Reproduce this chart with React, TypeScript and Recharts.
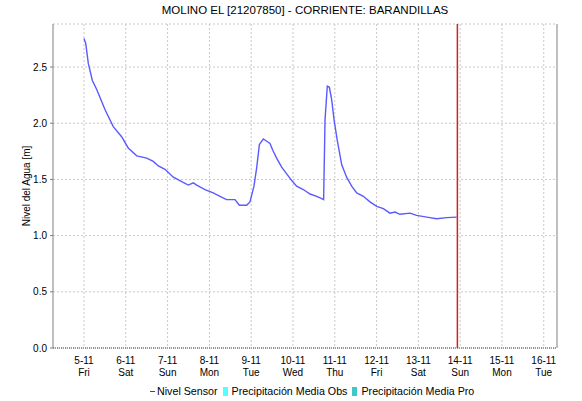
import React from 'react';
import { ComposedChart, Line, XAxis, YAxis, CartesianGrid, ReferenceLine } from 'recharts';

// hours since 5-11 00:00
const hours = [0, 1, 2.5, 4.8, 7.3, 12.1, 16.8, 21.6, 25.4, 30.3, 36, 39.8, 42.7, 46.5, 51.3, 56.1, 59.9, 62.8, 64.7, 69.5, 74.2, 78.1, 81.9, 86.7, 89.2, 93.4, 95.3, 97.6, 99.2, 100.7, 103, 104.9, 106.8, 108.4, 110.6, 113.5, 116.4, 119.3, 122.1, 125.9, 129.8, 133.6, 136.5, 137.6, 138.4, 139.7, 140.9, 142.2, 143.6, 145.4, 148, 150.8, 153.7, 156.6, 160.4, 164.2, 168.1, 171.9, 175.7, 178.6, 181.4, 187.2, 191, 196.8, 202.5, 208.3, 214];
const nivel = [2.755, 2.71, 2.53, 2.38, 2.3, 2.12, 1.97, 1.88, 1.78, 1.71, 1.69, 1.66, 1.62, 1.59, 1.52, 1.48, 1.45, 1.47, 1.45, 1.41, 1.38, 1.35, 1.32, 1.32, 1.27, 1.27, 1.3, 1.44, 1.61, 1.81, 1.86, 1.84, 1.82, 1.76, 1.69, 1.61, 1.55, 1.49, 1.44, 1.41, 1.37, 1.35, 1.33, 1.32, 2.03, 2.33, 2.32, 2.21, 2.03, 1.85, 1.63, 1.52, 1.44, 1.38, 1.35, 1.3, 1.26, 1.24, 1.2, 1.21, 1.19, 1.2, 1.18, 1.165, 1.15, 1.16, 1.165];

const dayTicks = [0, 24, 48, 72, 96, 120, 144, 168, 192, 216, 240, 264];
const dateLabels = ['5-11', '6-11', '7-11', '8-11', '9-11', '10-11', '11-11', '12-11', '13-11', '14-11', '15-11', '16-11'];
const dayNames = ['Fri', 'Sat', 'Sun', 'Mon', 'Tue', 'Wed', 'Thu', 'Fri', 'Sat', 'Sun', 'Mon', 'Tue'];

const leftTicks = [0, 0.5, 1, 1.5, 2, 2.5];
const rightTicks = [0, 10, 20, 30, 40, 50, 60, 70, 80, 90, 100];
const nowHour = 214.4;

const legendItems = [
  { name: 'Nivel Sensor', kind: 'line', color: '#3333ff' },
  { name: 'Precipitación Media Obs', kind: 'box', color: '#55ffff' },
  { name: 'Precipitación Media Pro', kind: 'box', color: '#3fc8c8' },
];

const data = hours.map((h, i) => ({ h, nivel: nivel[i] }));

const font = '"Liberation Sans", Arial, sans-serif';

const DayTick = (props: any) => {
  const { x, y, payload } = props;
  const i = dayTicks.indexOf(payload.value);
  return (
    <g>
      <text x={x} y={y + 8} textAnchor="middle" fontSize={10} fill="#000" fontFamily={font}>{dateLabels[i]}</text>
      <text x={x} y={y + 20} textAnchor="middle" fontSize={10} fill="#000" fontFamily={font}>{dayNames[i]}</text>
    </g>
  );
};

export default function App() {
  return (
    <div style={{ position: 'absolute', left: 0, top: 0, width: 582, height: 401, background: '#fff', fontFamily: font }}>
      <div style={{ position: 'absolute', left: 53, top: 4, width: 504, textAlign: 'center', fontSize: 11.5, color: '#000' }}>
        MOLINO EL [21207850] - CORRIENTE: BARANDILLAS
      </div>
      <ComposedChart width={582} height={401} data={data} margin={{ top: 24, right: 0, bottom: 23, left: 8 }}>
        <CartesianGrid yAxisId="left" stroke="#c8c8c8" strokeDasharray="2 2" verticalValues={dayTicks} />
        <XAxis
          dataKey="h"
          type="number"
          domain={[-17.8, 271.6]}
          ticks={dayTicks}
          tick={<DayTick />}
          tickLine={false}
          axisLine={{ stroke: '#444', strokeDasharray: '1 1' }}
          height={30}
          allowDataOverflow
        />
        <XAxis xAxisId="top" orientation="top" type="number" domain={[-17.8, 271.6]} tick={false} tickLine={false} axisLine={{ stroke: '#808080' }} height={0} />
        <YAxis
          yAxisId="left"
          domain={[0, 2.883]}
          ticks={leftTicks}
          tickFormatter={(v: number) => v.toFixed(1)}
          width={45}
          tickSize={3}
          tickMargin={3}
          tick={{ fontSize: 10, fill: '#000', fontFamily: font }}
          axisLine={{ stroke: '#808080' }}
          tickLine={{ stroke: '#808080' }}
          allowDataOverflow
          label={{ value: 'Nivel del Agua [m]', angle: -90, position: 'insideLeft', offset: 18, style: { textAnchor: 'middle', fontSize: 10, fill: '#000', fontFamily: font } }}
        />
        <YAxis
          yAxisId="right"
          orientation="right"
          domain={[0, 100]}
          ticks={rightTicks}
          width={25}
          tickSize={3}
          tickMargin={1}
          tick={{ fontSize: 10, fill: '#000', fontFamily: font, textAnchor: 'start' }}
          axisLine={{ stroke: '#808080' }}
          tickLine={{ stroke: '#808080' }}
        />
        <ReferenceLine yAxisId="left" x={nowHour} stroke="#d42020" strokeWidth={1.5} />
        <Line yAxisId="left" type="linear" dataKey="nivel" stroke="#5a5aff" strokeWidth={1.4} dot={false} isAnimationActive={false} />
      </ComposedChart>
      <div style={{ position: 'absolute', left: 150, top: 385, display: 'flex', alignItems: 'center', fontSize: 10.7, color: '#000', whiteSpace: 'nowrap' }}>
        {legendItems.map((it) => (
          <div key={it.name} style={{ display: 'flex', alignItems: 'center', marginRight: 5 }}>
            {it.kind === 'line' ? (
              <span style={{ display: 'inline-block', width: 5, height: 1, background: it.color, marginRight: 2 }} />
            ) : (
              <span style={{ display: 'inline-block', width: 5, height: 9, background: it.color, marginRight: 4 }} />
            )}
            <span>{it.name}</span>
          </div>
        ))}
      </div>
    </div>
  );
}
